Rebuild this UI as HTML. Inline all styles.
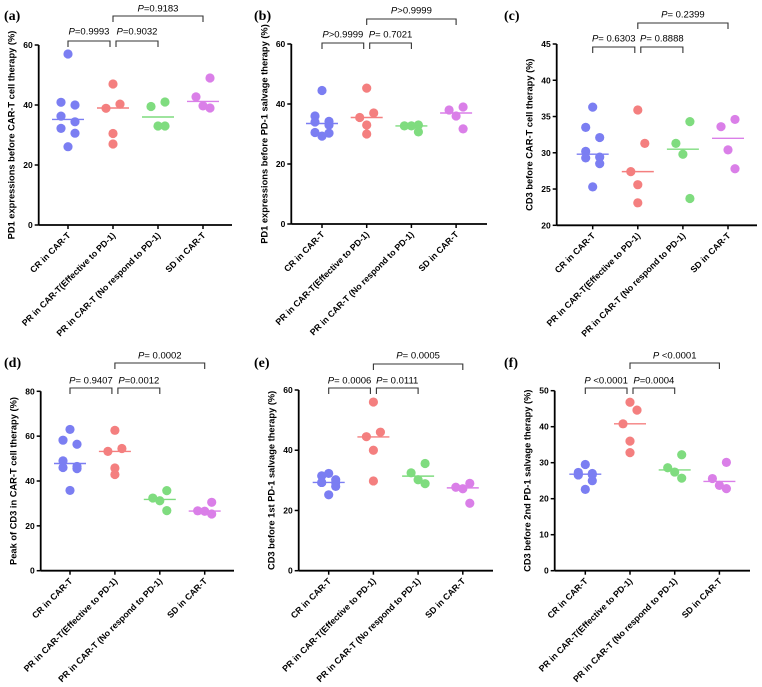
<!DOCTYPE html>
<html><head><meta charset="utf-8"><style>
html,body{margin:0;padding:0;background:#fff;}
svg{display:block;font-family:"Liberation Sans",sans-serif;}
.tk{font-size:8.5px;font-weight:bold;}
.cat{font-size:8.8px;font-weight:bold;}
.yt{font-size:9.3px;font-weight:bold;}
.pv{font-size:9.5px;}
.pl{font-family:"Liberation Serif",serif;font-weight:bold;font-size:14px;}
</style></head><body>
<svg id="fig" width="762" height="687" viewBox="0 0 762 687" xmlns="http://www.w3.org/2000/svg"></svg>
<script>
const categories = ["CR in CAR-T","PR in CAR-T(Effective to PD-1)","PR in CAR-T (No respond to PD-1)","SD in CAR-T"];
const colors = ["#7b7ef2","#f47f7f","#7fdc7f","#da7fe8"];
const valuesA = [[57,40.9,40,36.3,34.4,32.2,30.6,26.1],[47,40.3,38.9,30.5,27],[41,39.5,33,33],[49,42.7,39.7,39]];
const mediansA = [35.2,39,36,41.2];
const valuesB = [[44.5,36,34.2,34,33,30.5,30.3,29.3],[45.3,37,35.5,33,30],[33,32.7,32.7,30.7],[39,38,36,31.7]];
const mediansB = [33.5,35.5,32.7,37];
const valuesC = [[36.3,33.5,32.1,30.2,29.4,29.3,28.5,25.3],[35.9,31.3,27.4,25.6,23.1],[34.3,31.3,29.8,23.7],[34.6,33.6,30.4,27.8]];
const mediansC = [29.8,27.4,30.5,32];
const valuesD = [[63,58.2,56.4,49,46.5,46,45.5,35.8],[62.6,54.5,53.2,45.8,42.9],[35.7,32.4,31.2,26.8],[30.5,26.7,26.5,25.3]];
const mediansD = [47.8,53.2,31.8,26.6];
const valuesE = [[32.3,31.5,30.2,29.3,29.3,29.3,28,25.2],[56,46,44.5,40,29.8],[35.6,32.5,30.2,28.9],[29,27.7,27.2,22.4]];
const mediansE = [29.3,44.4,31.4,27.5];
const valuesF = [[29.5,27.3,27,26.8,26.7,26.6,25,22.6],[46.8,44.6,40.8,36,32.8],[32.2,28.6,27.4,25.7],[30.1,25.6,23.7,22.8]];
const mediansF = [26.8,40.8,28,24.8];
const ticksA = [0,20,40,60], ticksC=[20,25,30,35,40,45], ticksD=[0,20,40,60,80], ticksF=[0,10,20,30,40,50];
const pvalsA = ["0.9993","0.9032","0.9183"], pvalsB=[">0.9999","= 0.7021",">0.9999"], pvalsC=["= 0.6303","= 0.8888","= 0.2399"];
const pvalsD = ["= 0.9407","=0.0012","= 0.0002"], pvalsE=["= 0.0006","= 0.0111","= 0.0005"], pvalsF=[" <0.0001","=0.0004"," <0.0001"];
const jit = {8:[0,-1,1,-1,1,-1,1,0],5:[0,1,-1,0,0],4:[1,-1,0,1]};
const panels = [
 {id:"a",lab:[4,20],ax:38.7,top:45,bot:225,c0:68,st:45,end:232,min:0,max:60,ticks:ticksA,vals:valuesA,med:mediansA,p:pvalsA.map(s=>"="+s),pp:[31,8],br:[41,16],title:"PD1 expressions before CAR-T cell therapy (%)"},
 {id:"b",lab:[254,20],ax:291.3,top:44,bot:224,c0:322,st:44.7,end:487,min:0,max:60,ticks:ticksA,vals:valuesB,med:mediansB,p:pvalsB,pp:[34,10],br:[43,19],title:"PD1 expressions before PD-1 salvage therapy (%)"},
 {id:"c",lab:[504,20],ax:556.7,top:44,bot:225.3,c0:592.7,st:45.1,end:757,min:20,max:45,ticks:ticksC,vals:valuesC,med:mediansC,p:pvalsC,pp:[38,14],br:[47,23],title:"CD3 before CAR-T cell therapy (%)"},
 {id:"d",lab:[4,367],ax:40.7,top:391.3,bot:570.7,c0:70,st:44.9,end:234,min:0,max:80,ticks:ticksD,vals:valuesD,med:mediansD,p:pvalsD,pp:[380,355],br:[388,363],title:"Peak of CD3 in CAR-T cell therapy (%)"},
 {id:"e",lab:[254,367],ax:298.7,top:390,bot:570.7,c0:328.7,st:44.7,end:493,min:0,max:60,ticks:ticksA,vals:valuesE,med:mediansE,p:pvalsE,pp:[380,355],br:[388,364],title:"CD3 before 1st PD-1 salvage therapy (%)"},
 {id:"f",lab:[504,367],ax:554.7,top:390.7,bot:570.7,c0:585.3,st:44.7,end:750,min:0,max:50,ticks:ticksF,vals:valuesF,med:mediansF,p:pvalsF,pp:[380,355],br:[388,363],title:"CD3 before 2nd PD-1 salvage therapy (%)"}
];
const NS="http://www.w3.org/2000/svg", svg=document.getElementById('fig');
function mk(t,a,parent,txt){const e=document.createElementNS(NS,t);for(const k in a)e.setAttribute(k,a[k]);if(txt!==undefined)e.textContent=txt;parent.appendChild(e);return e;}
panels.forEach(P=>{
 const g=mk('g',{},svg);
 
 
 const y=v=>P.bot-(v-P.min)/(P.max-P.min)*(P.bot-P.top);
 const x=i=>P.c0+i*P.st;
 const l=mk('text',{x:P.lab[0],y:P.lab[1],class:'pl'},g,'('+P.id+')');
 
 
 const ya=mk('line',{x1:P.ax,y1:P.top,x2:P.ax,y2:P.bot,stroke:'#000','stroke-width':1.8},g);
 
 
 const xa=mk('line',{x1:P.ax,y1:P.bot,x2:P.end,y2:P.bot,stroke:'#000','stroke-width':1.8},g);
 
 
 P.ticks.forEach(t=>{
  mk('line',{x1:P.ax-4,y1:y(t),x2:P.ax,y2:y(t),stroke:'#000','stroke-width':1.5},g);
  const tl=mk('text',{x:P.ax-6,y:y(t)+3,'text-anchor':'end',class:'tk'},g,String(t));
  
  
 });
 const cy=(P.top+P.bot)/2, tx=P.ax-24;
 const yt=mk('text',{x:tx,y:cy,transform:`rotate(-90 ${tx} ${cy})`,'text-anchor':'middle',class:'yt'},g,P.title);
 
 
 categories.forEach((c,i)=>{
  mk('line',{x1:x(i),y1:P.bot,x2:x(i),y2:P.bot+4,stroke:'#000','stroke-width':1.5},g);
  const cx=x(i)+3, cyy=P.bot+11;
  const ct=mk('text',{x:cx,y:cyy,transform:`rotate(-45 ${cx} ${cyy})`,'text-anchor':'end',class:'cat'},g,c);
  
  
  const vs=P.vals[i], jj=jit[vs.length]||vs.map(()=>0);
  vs.forEach((v,k)=>{
   const d=mk('circle',{cx:x(i)+jj[k]*7,cy:y(v),r:4.6,fill:colors[i]},g);
   
   
  });
  const m=mk('line',{x1:x(i)-16,x2:x(i)+16,y1:y(P.med[i]),y2:y(P.med[i]),stroke:colors[i],'stroke-width':1.4},g);
  
  
 });
 const brs=[[0,1,P.br[0],P.pp[0],-1],[1,2,P.br[0],P.pp[0],1],[1,3,P.br[1],P.pp[1],0]];
 brs.forEach((b,k)=>{
  const x1=x(b[0])+(b[4]===1?3:0), x2=x(b[1])-(b[4]===-1?3:0), by=b[2];
  const br=mk('path',{d:`M${x1} ${by+6}V${by}H${x2}V${by+6}`,fill:'none',stroke:'#333','stroke-width':1.1},g);
  
  
  const t=mk('text',{x:(x1+x2)/2,y:b[3]+3.5,'text-anchor':'middle',class:'pv'},g);
  
  
  mk('tspan',{'font-style':'italic'},t,'P');
  mk('tspan',{},t,P.p[k]);
 });
});
</script>
</body></html>
